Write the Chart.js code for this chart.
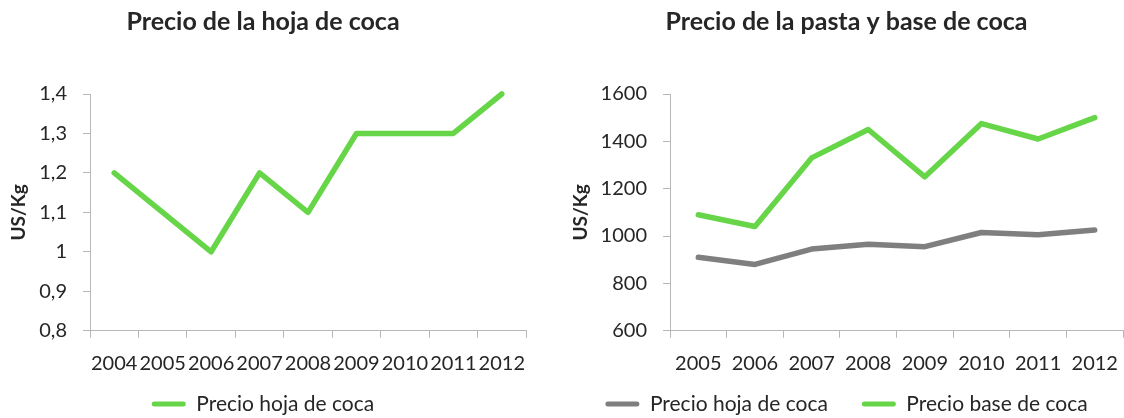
<!DOCTYPE html>
<html>
<head>
<meta charset="utf-8">
<script src="https://cdn.jsdelivr.net/npm/chart.js@4"></script>
<style>
  html, body { margin: 0; padding: 0; background: #fff; overflow: hidden; width: 1124px; height: 418px; }
  .box { position: absolute; top: 0; }
  #leftBox { left: 0; }
  #rightBox { left: 562px; }
  canvas { display: block; }
</style>
</head>
<body>
<div class="box" id="leftBox"><canvas id="hoja" width="562" height="450"></canvas></div>
<div class="box" id="rightBox"><canvas id="pasta" width="570" height="450"></canvas></div>
<script>
// Precio de la hoja de coca (US/Kg)
const hojaYears = ['2004', '2005', '2006', '2007', '2008', '2009', '2010', '2011', '2012'];
const hojaPrice = [1.2, 1.1, 1.0, 1.2, 1.1, 1.3, 1.3, 1.3, 1.4];
const hojaTicks = ['0,8', '0,9', '1', '1,1', '1,2', '1,3', '1,4'];

// Precio de la pasta y base de coca (US/Kg)
const pastaYears = ['2005', '2006', '2007', '2008', '2009', '2010', '2011', '2012'];
const pastaHoja = [910, 880, 945, 965, 955, 1015, 1005, 1025];
const pastaBase = [1090, 1040, 1330, 1450, 1250, 1475, 1410, 1500];
const pastaTicks = ['600', '800', '1000', '1200', '1400', '1600'];

const GREEN = '#66d648';
const GREY = '#7f7f7f';
const AXIS = '#b7b7b7';
const TEXT = '#262626';

// Pulls the bottom legend up so it sits just under the year labels
const legendLift = {
  id: 'legendLift',
  afterLayout(chart, args, opts) {
    const lg = chart.legend;
    if (!lg) return;
    lg.top -= opts.lift;
    lg.bottom -= opts.lift;
  }
};

function lineSet(label, data, color) {
  return {
    label, data,
    borderColor: color, backgroundColor: color,
    borderWidth: 5.5, pointRadius: 0, tension: 0,
    borderCapStyle: 'round', borderJoinStyle: 'round',
    fill: false, clip: false
  };
}

function buildOptions(cfg) {
  return {
    responsive: false,
    animation: false,
    events: [],
    layout: { padding: { left: 0, right: cfg.padRight, top: 0, bottom: 0 } },
    plugins: {
      legendLift: { lift: 25.5 },
      title: {
        display: true, text: cfg.title, color: TEXT,
        font: { size: 25, weight: 'bold' },
        padding: { top: 7, bottom: 57 }
      },
      legend: {
        display: true, position: 'bottom',
        labels: {
          color: TEXT, font: { size: 21 },
          boxWidth: 34, boxHeight: 5, padding: 34,
          useBorderRadius: true, borderRadius: 2.5,
          generateLabels(chart) {
            return Chart.defaults.plugins.legend.labels.generateLabels(chart)
              .map(item => Object.assign(item, { lineWidth: 0 }));
          }
        }
      },
      tooltip: { enabled: false }
    },
    scales: {
      x: {
        type: 'category', offset: true,
        grid: { offset: true, drawOnChartArea: false, drawTicks: true, tickLength: 7, color: AXIS },
        border: { display: true, color: AXIS, width: 1 },
        ticks: { color: TEXT, font: { size: 20 }, padding: 14, autoSkip: false, maxRotation: 0, minRotation: 0 },
        afterFit(scale) { scale.height = 54.3; }
      },
      y: {
        min: cfg.min, max: cfg.max,
        grid: { drawOnChartArea: false, drawTicks: true, tickLength: 7, color: AXIS },
        border: { display: true, color: AXIS, width: 1 },
        ticks: {
          stepSize: cfg.step, color: TEXT, font: { size: 20 }, padding: 16,
          callback: (v, i) => cfg.tickLabels[i]
        },
        title: {
          display: true, text: 'US/Kg', color: TEXT,
          font: { size: 19, weight: 'bold' },
          padding: { top: 7, bottom: 0 }
        },
        afterFit(scale) { scale.width = cfg.yWidth; }
      }
    }
  };
}

function draw() {
  Chart.defaults.font.family = 'Lato';
  Chart.defaults.color = TEXT;

  new Chart(document.getElementById('hoja'), {
    type: 'line',
    data: { labels: hojaYears, datasets: [lineSet('Precio hoja de coca', hojaPrice, GREEN)] },
    options: buildOptions({
      title: 'Precio de la hoja de coca', padRight: 36,
      min: 0.8, max: 1.4, step: 0.1, tickLabels: hojaTicks, yWidth: 90
    }),
    plugins: [legendLift]
  });

  new Chart(document.getElementById('pasta'), {
    type: 'line',
    data: {
      labels: pastaYears,
      datasets: [
        lineSet('Precio hoja de coca', pastaHoja, GREY),
        lineSet('Precio base de coca', pastaBase, GREEN)
      ]
    },
    options: buildOptions({
      title: 'Precio de la pasta y base de coca', padRight: 1,
      min: 600, max: 1600, step: 200, tickLabels: pastaTicks, yWidth: 108
    }),
    plugins: [legendLift]
  });
}

Promise.all([
  document.fonts.load('20px Lato'),
  document.fonts.load('bold 20px Lato')
]).then(draw, draw);
</script>
</body>
</html>
